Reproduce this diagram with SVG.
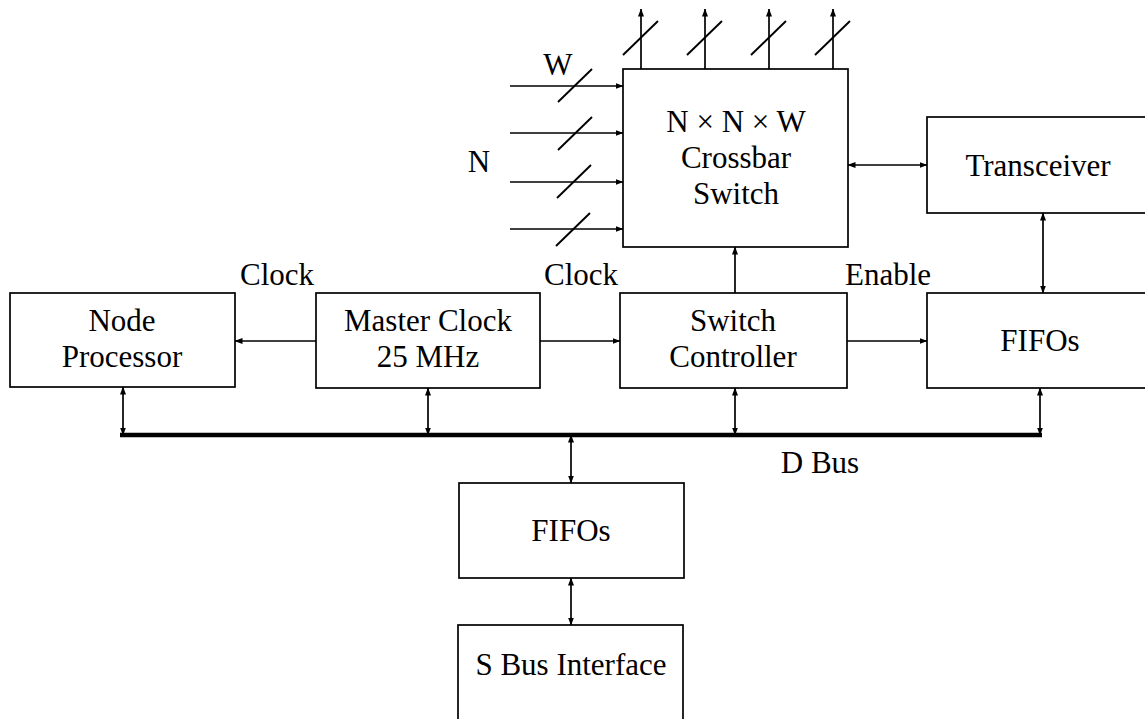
<svg xmlns="http://www.w3.org/2000/svg" width="1145" height="719" viewBox="0 0 1145 719">
<defs>
<marker id="ah" viewBox="0 0 8 8" refX="7.5" refY="4" markerWidth="8" markerHeight="8" markerUnits="userSpaceOnUse" orient="auto-start-reverse">
<path d="M0,1 L8,4 L0,7 Z" fill="#000"/>
</marker>
<style>
.box{fill:#fff;stroke:#000;stroke-width:1.7}
.t{font-family:"Liberation Serif","Times New Roman",serif;font-size:31px;fill:#000;text-anchor:middle}
.c{fill:none;stroke:#000;stroke-width:1.7}
.a{marker-end:url(#ah)}
.b{marker-start:url(#ah);marker-end:url(#ah)}
.sl{stroke:#000;stroke-width:1.9}
.bus{stroke:#000;stroke-width:4.5}
</style>
</defs>
<rect width="1145" height="719" fill="#fff"/>

<g id="connectors">
  <line class="c a" x1="510" y1="86" x2="623" y2="86"/>
  <line class="c a" x1="510" y1="133" x2="623" y2="133"/>
  <line class="c a" x1="510" y1="182" x2="623" y2="182"/>
  <line class="c a" x1="510" y1="229" x2="623" y2="229"/>
  <line class="sl" x1="558" y1="102" x2="592" y2="69"/>
  <line class="sl" x1="558" y1="150" x2="592" y2="117"/>
  <line class="sl" x1="557" y1="198" x2="591" y2="165"/>
  <line class="sl" x1="556" y1="246" x2="590" y2="213"/>
  <line class="c a" x1="641" y1="69" x2="641" y2="9"/>
  <line class="c a" x1="705" y1="69" x2="705" y2="9"/>
  <line class="c a" x1="769" y1="69" x2="769" y2="9"/>
  <line class="c a" x1="833" y1="69" x2="833" y2="9"/>
  <line class="sl" x1="623" y1="55" x2="658" y2="21"/>
  <line class="sl" x1="687" y1="55" x2="722" y2="21"/>
  <line class="sl" x1="751" y1="55" x2="786" y2="21"/>
  <line class="sl" x1="815" y1="55" x2="850" y2="21"/>
  <line class="c b" x1="848" y1="165" x2="927" y2="165"/>
  <line class="c b" x1="1043" y1="213" x2="1043" y2="293"/>
  <line class="c a" x1="735" y1="293" x2="735" y2="247"/>
  <line class="c a" x1="316" y1="341" x2="235" y2="341"/>
  <line class="c a" x1="540" y1="341" x2="620" y2="341"/>
  <line class="c a" x1="847" y1="341" x2="927" y2="341"/>
  <line class="bus" x1="120" y1="435" x2="1042" y2="435"/>
  <line class="c b" x1="123" y1="435" x2="123" y2="387"/>
  <line class="c b" x1="428" y1="435" x2="428" y2="388"/>
  <line class="c b" x1="735" y1="435" x2="735" y2="388"/>
  <line class="c b" x1="1040" y1="435" x2="1040" y2="388"/>
  <line class="c b" x1="571" y1="435" x2="571" y2="483"/>
  <line class="c b" x1="571" y1="578" x2="571" y2="625"/>
</g>

<g id="labels">
  <text class="t" x="558" y="75">W</text>
  <text class="t" x="479" y="172">N</text>
  <text class="t" x="277" y="285">Clock</text>
  <text class="t" x="581" y="285">Clock</text>
  <text class="t" x="888" y="285">Enable</text>
  <text class="t" x="820" y="473">D Bus</text>
</g>

<g id="crossbar">
  <rect class="box" x="623" y="69" width="225" height="178"/>
  <text class="t" x="736" y="132">N × N × W</text>
  <text class="t" x="736" y="168">Crossbar</text>
  <text class="t" x="736" y="204">Switch</text>
</g>
<g id="transceiver">
  <rect class="box" x="927" y="117" width="240" height="96"/>
  <text class="t" x="1038" y="176">Transceiver</text>
</g>
<g id="node-processor">
  <rect class="box" x="10" y="293" width="225" height="94"/>
  <text class="t" x="122" y="331">Node</text>
  <text class="t" x="122" y="367">Processor</text>
</g>
<g id="master-clock">
  <rect class="box" x="316" y="293" width="224" height="95"/>
  <text class="t" x="428" y="331">Master Clock</text>
  <text class="t" x="428" y="367">25 MHz</text>
</g>
<g id="switch-controller">
  <rect class="box" x="620" y="293" width="227" height="95"/>
  <text class="t" x="733" y="331">Switch</text>
  <text class="t" x="733" y="367">Controller</text>
</g>
<g id="fifos-right">
  <rect class="box" x="927" y="293" width="240" height="95"/>
  <text class="t" x="1040" y="351">FIFOs</text>
</g>
<g id="fifos-bottom">
  <rect class="box" x="459" y="483" width="225" height="95"/>
  <text class="t" x="571" y="541">FIFOs</text>
</g>
<g id="sbus-interface">
  <rect class="box" x="458" y="625" width="225" height="110"/>
  <text class="t" x="571" y="675">S Bus Interface</text>
</g>
</svg>
